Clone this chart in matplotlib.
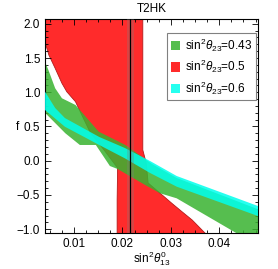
import numpy as np
import matplotlib
matplotlib.use('Agg')
import matplotlib.pyplot as plt
from matplotlib.patches import Polygon, Patch
from matplotlib.ticker import MultipleLocator

plt.rcParams['font.family'] = ['Liberation Sans', 'DejaVu Sans']
plt.rcParams['mathtext.fontset'] = 'custom'
plt.rcParams['mathtext.rm'] = 'Liberation Sans'
plt.rcParams['mathtext.it'] = 'Liberation Sans:italic'

# region outlines (x = sin^2 theta13, y = f)
red_x = [0.003, 0.0242, 0.0242, 0.0249, 0.0253, 0.0278, 0.0302, 0.0323, 0.0344, 0.0371, 0.0376,
         0.0188, 0.0189, 0.0189, 0.0190, 0.0162, 0.0133, 0.0116, 0.0103, 0.0085, 0.0075, 0.0061,
         0.0048, 0.0040, 0.003]
red_y = [2.2, 2.2, 0.157, -0.033, -0.325, -0.476, -0.622, -0.745, -0.866, -1.06, -1.2,
         -1.2, -1.06, -0.574, -0.106, 0.157, 0.42, 0.668, 0.862, 1.008, 1.131, 1.35,
         1.544, 1.734, 1.76]

green_x = [0.003, 0.0040, 0.0047, 0.0061, 0.0075, 0.0103, 0.0151, 0.0206, 0.0261, 0.0312, 0.0484, 0.0505,
           0.0505, 0.0436, 0.0312, 0.0278, 0.0247, 0.0190, 0.0174, 0.0145, 0.0112, 0.0082, 0.0041, 0.003]
green_y = [1.45, 1.446, 1.325, 1.058, 0.912, 0.814, 0.424, 0.23, -0.048, -0.252, -0.72, -0.75,
           -1.343, -1.06, -0.549, -0.476, -0.355, -0.121, -0.077, 0.23, 0.23, 0.401, 0.693, 0.71]

cyan_x = [0.003, 0.0040, 0.0061, 0.0081, 0.0152, 0.0205, 0.0257, 0.0312, 0.0484, 0.0505,
          0.0505, 0.0484, 0.0312, 0.0257, 0.0205, 0.0152, 0.0081, 0.0040, 0.003]
cyan_y = [1.03, 1.008, 0.77, 0.624, 0.347, 0.186, -0.004, -0.223, -0.672, -0.70,
          -0.845, -0.818, -0.379, -0.179, 0.035, 0.23, 0.497, 0.741, 0.755]

best_fit = 0.02162
band = (0.0209, 0.0224)

labels = [r'sin$^2\theta_{23}$=0.43', r'sin$^2\theta_{23}$=0.5', r'sin$^2\theta_{23}$=0.6']
xticks = [0.01, 0.02, 0.03, 0.04]
xtick_labels = ['0.01', '0.02', '0.03', '0.04']
yticks = [-1.0, -0.5, 0.0, 0.5, 1.0, 1.5, 2.0]
ytick_labels = ['\u22121.0', '\u22120.5', '0.0', '0.5', '1.0', '1.5', '2.0']

c_red = (1.0, 0.17, 0.17)
c_green = (0.22, 0.70, 0.19)
c_cyan = (0.0, 1.0, 0.93)

fig = plt.figure(figsize=(2.78, 2.69), dpi=100)
ax = fig.add_axes([0.1619, 0.1327, 0.7662, 0.7967])

ax.add_patch(Polygon(np.column_stack([red_x, red_y]), closed=True, facecolor=c_red,
                     edgecolor=(0.7, 0.1, 0.1), lw=0.6, zorder=1))
ax.add_patch(Polygon(np.column_stack([green_x, green_y]), closed=True, facecolor=c_green,
                     alpha=0.85, edgecolor='none', zorder=2))
ax.add_patch(Polygon(np.column_stack([cyan_x, cyan_y]), closed=True, facecolor=c_cyan,
                     alpha=0.85, edgecolor='none', zorder=3))
ax.axvspan(band[0], band[1], color='gray', alpha=0.3, lw=0, zorder=4)
ax.axvline(best_fit, color='black', lw=0.9, zorder=5)

ax.set_xlim(0.004, 0.048)
ax.set_ylim(-1.06, 2.07)
ax.set_xticks(xticks)
ax.set_xticklabels(xtick_labels)
ax.set_yticks(yticks)
ax.set_yticklabels(ytick_labels)
ax.xaxis.set_minor_locator(MultipleLocator(0.0025))
ax.yaxis.set_minor_locator(MultipleLocator(0.1))
ax.tick_params(which='both', direction='in', top=True, right=True, labelsize=8.5, width=0.6)
ax.tick_params(which='major', length=4)
ax.tick_params(which='minor', length=2)
for s in ax.spines.values():
    s.set_linewidth(0.8)

ax.set_title('T2HK', fontsize=8.5, pad=5)
ax.set_xlabel(r'sin$^2\theta_{13}^0$', fontsize=8.5)
ax.xaxis.set_label_coords(0.5, -0.074)
ax.text(-0.127, 0.496, 'f', transform=ax.transAxes, fontsize=8.5, ha='center', va='center')

handles = [Patch(facecolor=c_green, alpha=0.85), Patch(facecolor=c_red), Patch(facecolor=c_cyan, alpha=0.85)]
leg = ax.legend(handles, labels, loc='upper right', bbox_to_anchor=(0.99, 0.935), borderaxespad=0,
                fontsize=8.5, handlelength=0.8, handleheight=0.8, handletextpad=0.4,
                labelspacing=0.35, borderpad=0.3, fancybox=False, framealpha=1)
leg.get_frame().set_edgecolor('gray')
leg.get_frame().set_linewidth(0.8)

fig.savefig('out.png', dpi=100)
